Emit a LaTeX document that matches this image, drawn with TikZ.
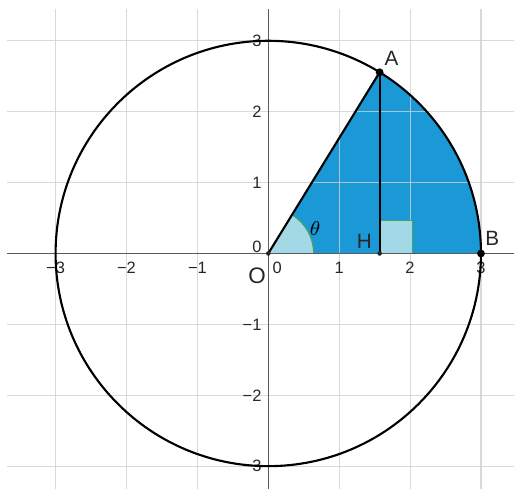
\documentclass[tikz,border=0pt]{standalone}
\usepackage{fontspec}
\setmainfont{Liberation Sans}
\definecolor{gridc}{HTML}{CFCFCF}
\definecolor{axisc}{HTML}{5A5A5A}
\definecolor{sectorblue}{HTML}{1A99D6}
\definecolor{lightb}{HTML}{A3D8E6}
\definecolor{markgreen}{HTML}{4A9E66}
\definecolor{labc}{HTML}{262626}
\tikzset{
  gridline/.style={draw=gridc, line width=0.45pt, opacity=0.8},
  axisline/.style={draw=axisc, line width=0.45pt},
  curve/.style={draw=black, line width=0.85pt},
  ticklab/.style={font=\fontsize{6.6}{7}\selectfont, text=labc, inner sep=0pt},
  ptlab/.style={font=\fontsize{8.3}{9}\selectfont, text=labc, inner sep=0pt},
  bigdot/.style={circle, fill=black, inner sep=0pt, minimum size=0.11cm},
  smalldot/.style={circle, fill=labc, inner sep=0pt, minimum size=0.065cm},
}
\begin{document}
\begin{tikzpicture}[x=1cm,y=1cm]
\useasboundingbox (-3.784,-3.322) rectangle (3.480,3.575);
% coordinates
\coordinate (O) at (0,0);
\coordinate (A) at (1.5708,2.5560);
\coordinate (H) at (1.5708,0);
\coordinate (B) at (3,0);
% filled sector
\fill[sectorblue] (O) -- (A) arc[start angle=58.43, end angle=0, radius=3] -- cycle;
% grid
\foreach \x in {-3,...,3} \draw[gridline] (\x,-3.322) -- (\x,3.449);
\foreach \y in {-3,...,3} \draw[gridline] (-3.685,\y) -- (3.466,\y);
% angle mark
\fill[lightb] (O) -- (0.64,0) arc[start angle=0, end angle=58.43, radius=0.64] -- cycle;
\draw[markgreen, line width=0.45pt] (0.64,0) arc[start angle=0, end angle=58.43, radius=0.64];
% right angle mark
\draw[markgreen, fill=lightb, line width=0.45pt] (H) rectangle (2.035,0.46);
% axes
\draw[axisline] (-3.685,0) -- (3.466,0);
\draw[axisline] (0,-3.322) -- (0,3.449);
% tick labels
\foreach \x in {-3,-2,-1,1,2,3} \node[ticklab] (xl\x) at (\x,-0.205) {\ifnum\x<0 −\the\numexpr-\x\relax\else\x\fi};
\node[ticklab] (xl0) at (0.127,-0.205) {0};
\foreach \y in {-3,-2,-1,1,2,3} \node[ticklab, anchor=east] (yl\y) at (-0.09,\y) {\ifnum\y<0 −\the\numexpr-\y\relax\else\y\fi};
\node[ticklab, anchor=east] (yl0) at (-0.09,0.096) {0};
% circle and segments
\draw[curve] (O) circle[radius=3];
\draw[curve] (O) -- (A);
\draw[curve] (A) -- (H);
% points
\node[bigdot] (Ad) at (A) {};
\node[bigdot] (Bd) at (B) {};
\node[smalldot] (Od) at (O) {};
\node[smalldot] (Hd) at (H) {};
% labels
\node[ptlab] (Al) at (1.740,2.753) {A};
\node[ptlab] (Bl) at (3.159,0.214) {B};
\node[ptlab] (Hl) at (1.354,0.176) {H};
\node[ptlab, font=\fontsize{9}{10}\selectfont] (Ol) at (-0.159,-0.317) {O};
\node[inner sep=0pt, font=\fontsize{8.5}{9}\selectfont] (th) at (0.659,0.346) {$\theta$};
\end{tikzpicture}
\end{document}
